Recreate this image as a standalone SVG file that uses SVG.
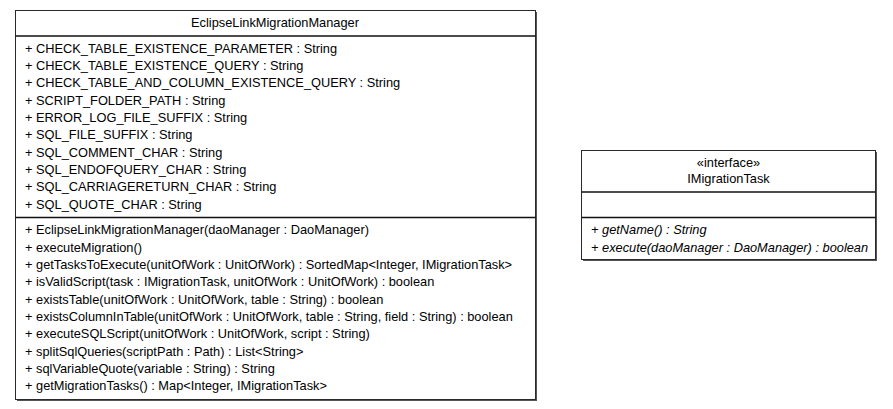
<svg xmlns="http://www.w3.org/2000/svg" width="893" height="409" viewBox="0 0 893 409">
<style>
.box{fill:#ffffff;stroke:#2a2a2a;stroke-width:1}
.shadow{fill:#555555}
.sep{stroke:#111111;stroke-width:1.5}
text{font-family:"Liberation Sans",Arial,sans-serif;font-size:12.8px;fill:#000000}
.c{text-anchor:middle}
.i{font-style:italic}
</style>
<rect width="893" height="409" fill="#ffffff"/>
<g id="EclipseLinkMigrationManager">
<rect class="shadow" x="17" y="12" width="520" height="389"/>
<rect class="box" x="15.5" y="10.5" width="520" height="389"/>
<line class="sep" x1="15.5" y1="36" x2="535.5" y2="36"/>
<line class="sep" x1="15.5" y1="217.5" x2="535.5" y2="217.5"/>
<text class="c" x="275" y="26.5">EclipseLinkMigrationManager</text>
<text x="25" y="52.5">+ CHECK_TABLE_EXISTENCE_PARAMETER : String</text>
<text x="25" y="70">+ CHECK_TABLE_EXISTENCE_QUERY : String</text>
<text x="25" y="87">+ CHECK_TABLE_AND_COLUMN_EXISTENCE_QUERY : String</text>
<text x="25" y="104.5">+ SCRIPT_FOLDER_PATH : String</text>
<text x="25" y="121.5">+ ERROR_LOG_FILE_SUFFIX : String</text>
<text x="25" y="139">+ SQL_FILE_SUFFIX : String</text>
<text x="25" y="156.5">+ SQL_COMMENT_CHAR : String</text>
<text x="25" y="173.5">+ SQL_ENDOFQUERY_CHAR : String</text>
<text x="25" y="191">+ SQL_CARRIAGERETURN_CHAR : String</text>
<text x="25" y="208.5">+ SQL_QUOTE_CHAR : String</text>
<text x="25" y="234">+ EclipseLinkMigrationManager(daoManager : DaoManager)</text>
<text x="25" y="251.5">+ executeMigration()</text>
<text x="25" y="268.5">+ getTasksToExecute(unitOfWork : UnitOfWork) : SortedMap&lt;Integer, IMigrationTask&gt;</text>
<text x="25" y="286">+ isValidScript(task : IMigrationTask, unitOfWork : UnitOfWork) : boolean</text>
<text x="25" y="303.5">+ existsTable(unitOfWork : UnitOfWork, table : String) : boolean</text>
<text x="25" y="320.5">+ existsColumnInTable(unitOfWork : UnitOfWork, table : String, field : String) : boolean</text>
<text x="25" y="338">+ executeSQLScript(unitOfWork : UnitOfWork, script : String)</text>
<text x="25" y="355.5">+ splitSqlQueries(scriptPath : Path) : List&lt;String&gt;</text>
<text x="25" y="372.5">+ sqlVariableQuote(variable : String) : String</text>
<text x="25" y="390">+ getMigrationTasks() : Map&lt;Integer, IMigrationTask&gt;</text>
</g>
<g id="IMigrationTask">
<rect class="shadow" x="583" y="152" width="294" height="109"/>
<rect class="box" x="581.5" y="150.5" width="294" height="109"/>
<line class="sep" x1="581.5" y1="192" x2="875.5" y2="192"/>
<line class="sep" x1="581.5" y1="217.5" x2="875.5" y2="217.5"/>
<text class="c" x="728.5" y="166.5">«interface»</text>
<text class="c" x="728.5" y="183">IMigrationTask</text>
<text class="i" x="591" y="234">+ getName() : String</text>
<text class="i" x="591" y="251.5">+ execute(daoManager : DaoManager) : boolean</text>
</g>
<g id="connectors"/>
</svg>
